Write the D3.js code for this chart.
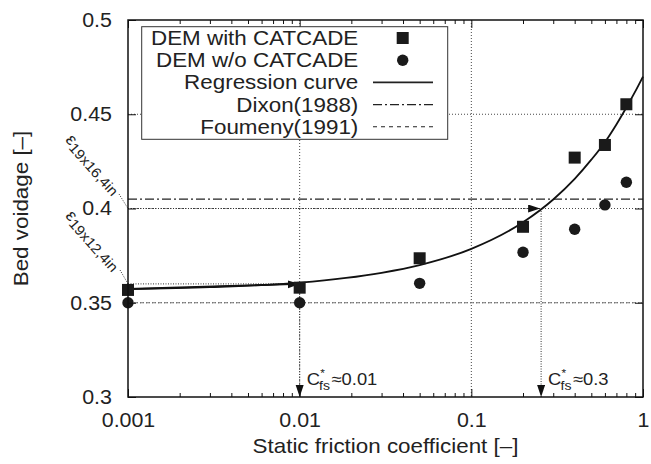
<!DOCTYPE html>
<html><head><meta charset="utf-8">
<script src="https://cdn.jsdelivr.net/npm/d3@7"></script>
<style>body{margin:0;background:#fff}svg{display:block}</style>
</head><body>
<svg id="c" width="651" height="464"></svg>
<script>
// ---- data ----
const xTicksMajor = [0.001, 0.01, 0.1, 1];
const xTickLabels = ["0.001", "0.01", "0.1", "1"];
const yTicks = [0.3, 0.35, 0.4, 0.45, 0.5];
const yTickLabels = ["0.3", "0.35", "0.4", "0.45", "0.5"];
const yGrid = [0.35, 0.4, 0.45];
const xGrid = [0.01, 0.1];
const frictionX = [0.001, 0.01, 0.05, 0.2, 0.4, 0.6, 0.8];
const withCatcade = [0.3568, 0.358, 0.3736, 0.3903, 0.427, 0.4337, 0.4553];
const withoutCatcade = [0.350, 0.350, 0.3603, 0.3768, 0.389, 0.4019, 0.4139];
const regX = [0.001, 0.003, 0.01, 0.03, 0.05, 0.1, 0.2, 0.3, 0.4, 0.5, 0.6, 0.7, 0.8, 0.9, 1.0];
const regY = [0.3573, 0.3583, 0.3607, 0.3659, 0.3700, 0.3786, 0.3927, 0.4048, 0.4157, 0.4259, 0.4352, 0.4446, 0.4536, 0.4620, 0.4700];
const dixon = 0.405;
const foumeny = 0.35;
const eps19x16 = 0.4;
const eps19x12 = 0.36;
const cfsLow = 0.01;
const cfsHigh = 0.255;
const legendLabels = ["DEM with CATCADE", "DEM w/o CATCADE", "Regression curve", "Dixon(1988)", "Foumeny(1991)"];

// ---- layout ----
const L = 128, R = 643, T = 20, B = 397;
const FONT = "'Liberation Sans', Arial, Helvetica, sans-serif";
const svg = d3.select("#c");
const x = d3.scaleLog().domain([0.001, 1]).range([L, R]);
const y = d3.scaleLinear().domain([0.3, 0.5]).range([B, T]);

const defs = svg.append("defs");
defs.append("marker").attr("id", "ah").attr("markerUnits", "userSpaceOnUse")
  .attr("markerWidth", 13).attr("markerHeight", 9).attr("refX", 12).attr("refY", 4)
  .attr("orient", "auto").append("path").attr("d", "M0,0 L12,4 L0,8 Z").attr("fill", "#111");

// grid
const grid = svg.append("g").attr("stroke", "#333").attr("stroke-width", 0.9).attr("stroke-dasharray", "1,2");
grid.selectAll(".gx").data(xGrid).enter().append("line")
  .attr("x1", d => x(d)).attr("x2", d => x(d)).attr("y1", T).attr("y2", B);
grid.selectAll(".gy").data(yGrid).enter().append("line")
  .attr("x1", L).attr("x2", R).attr("y1", d => y(d)).attr("y2", d => y(d));

// reference lines
svg.append("line").attr("x1", L).attr("x2", R).attr("y1", y(foumeny)).attr("y2", y(foumeny))
  .attr("stroke", "#777").attr("stroke-width", 1.2).attr("stroke-dasharray", "3,3");
svg.append("line").attr("x1", L).attr("x2", R).attr("y1", y(dixon)).attr("y2", y(dixon))
  .attr("stroke", "#222").attr("stroke-width", 1.1).attr("stroke-dasharray", "9,3,2,3");

// annotation dotted lines
const dot = svg.append("g").attr("stroke", "#333").attr("stroke-width", 1).attr("stroke-dasharray", "1,1.5").attr("fill", "none");
dot.append("line").attr("x1", L).attr("x2", x(cfsLow)).attr("y1", y(eps19x12)).attr("y2", y(eps19x12));
dot.append("line").attr("x1", x(cfsLow)).attr("x2", x(cfsLow)).attr("y1", y(eps19x12)).attr("y2", B).attr("marker-end", "url(#ah)");
dot.append("line").attr("x1", L).attr("x2", x(cfsHigh) - 1).attr("y1", y(eps19x16)).attr("y2", y(eps19x16)).attr("marker-end", "url(#ah)");
dot.append("line").attr("x1", x(cfsHigh)).attr("x2", x(cfsHigh)).attr("y1", y(eps19x16)).attr("y2", B).attr("marker-end", "url(#ah)");
dot.append("line").attr("x1", 119).attr("y1", 194).attr("x2", L).attr("y2", y(eps19x16));
dot.append("line").attr("x1", 120).attr("y1", 270).attr("x2", L).attr("y2", y(eps19x12));

// regression curve
const line = d3.line().x(d => x(d[0])).y(d => y(d[1])).curve(d3.curveMonotoneX);
svg.append("path").datum(regX.map((v, i) => [v, regY[i]])).attr("d", line)
  .attr("fill", "none").attr("stroke", "#111").attr("stroke-width", 1.8);
// arrow along curve
svg.append("line").attr("x1", x(0.001)).attr("y1", y(regY[0])).attr("x2", x(cfsLow)).attr("y2", y(eps19x12))
  .attr("stroke", "#111").attr("stroke-width", 1.8).attr("marker-end", "url(#ah)");

// points
svg.selectAll(".sq").data(frictionX).enter().append("rect")
  .attr("x", d => x(d) - 6).attr("y", (d, i) => y(withCatcade[i]) - 6)
  .attr("width", 12).attr("height", 12).attr("fill", "#1a1a1a");
svg.selectAll(".ci").data(frictionX).enter().append("circle")
  .attr("cx", d => x(d)).attr("cy", (d, i) => y(withoutCatcade[i])).attr("r", 5.7).attr("fill", "#1a1a1a");

// axes (inward ticks)
function styleAxis(g) { g.select(".domain").remove(); g.selectAll("line").attr("stroke", "#111"); }
const minor = x.ticks().filter(v => !xTicksMajor.some(m => Math.abs(m - v) < 1e-9));
svg.append("g").attr("transform", `translate(0,${B})`)
  .call(d3.axisBottom(x).tickValues(minor).tickSize(-4).tickFormat("")).call(styleAxis);
svg.append("g").attr("transform", `translate(0,${T})`)
  .call(d3.axisTop(x).tickValues(minor).tickSize(-4).tickFormat("")).call(styleAxis);
svg.append("g").attr("transform", `translate(0,${T})`)
  .call(d3.axisTop(x).tickValues(xTicksMajor).tickSize(-8).tickFormat("")).call(styleAxis);
const bx = svg.append("g").attr("transform", `translate(0,${B})`)
  .call(d3.axisBottom(x).tickValues(xTicksMajor).tickSize(-8).tickPadding(15.5).tickFormat((d, i) => xTickLabels[i]))
  .call(styleAxis);
bx.selectAll("text").attr("font-family", FONT).attr("font-size", 20).attr("fill", "#222")
  .attr("transform", "scale(1.07,1)");
const ly = svg.append("g").attr("transform", `translate(${L},0)`)
  .call(d3.axisLeft(y).tickValues(yTicks).tickSize(-8).tickPadding(15).tickFormat((d, i) => yTickLabels[i]))
  .call(styleAxis);
ly.selectAll("text").attr("font-family", FONT).attr("font-size", 20).attr("fill", "#222")
  .attr("transform", "scale(1.07,1)");
svg.append("g").attr("transform", `translate(${R},0)`)
  .call(d3.axisRight(y).tickValues(yTicks).tickSize(-8).tickFormat("")).call(styleAxis);

// legend
const lg = svg.append("g");
lg.append("rect").attr("x", 141.7).attr("y", 26.7).attr("width", 306).attr("height", 112.6)
  .attr("fill", "#fff").attr("stroke", "#333").attr("stroke-width", 1);
legendLabels.forEach((t, i) => {
  const cy = 38 + i * 22.2;
  lg.append("text").attr("transform", `translate(358.3,${cy + 7}) scale(1.12,1)`)
    .attr("text-anchor", "end").attr("font-family", FONT).attr("font-size", 20).attr("fill", "#222").text(t);
  if (i === 0) lg.append("rect").attr("x", 396.7).attr("y", cy - 6).attr("width", 12).attr("height", 12).attr("fill", "#1a1a1a");
  if (i === 1) lg.append("circle").attr("cx", 402.7).attr("cy", cy).attr("r", 5.7).attr("fill", "#1a1a1a");
  if (i >= 2) lg.append("line").attr("x1", 373).attr("x2", 433).attr("y1", cy).attr("y2", cy)
    .attr("stroke", "#222").attr("stroke-width", i === 2 ? 1.8 : 1.1)
    .attr("stroke-dasharray", i === 3 ? "9,3,2,3" : (i === 4 ? "4,4" : null));
});

// frame
svg.append("rect").attr("x", L).attr("y", T).attr("width", R - L).attr("height", B - T)
  .attr("fill", "none").attr("stroke", "#111").attr("stroke-width", 1.5);

// axis titles
svg.append("text").attr("transform", `translate(${(L + R) / 2},453) scale(1.12,1)`)
  .attr("text-anchor", "middle").attr("font-family", FONT).attr("font-size", 20).attr("fill", "#222")
  .text("Static friction coefficient [–]");
svg.append("text").attr("transform", `translate(28,${(T + B) / 2}) rotate(-90) scale(1.12,1)`)
  .attr("text-anchor", "middle").attr("font-family", FONT).attr("font-size", 20).attr("fill", "#222")
  .text("Bed voidage [–]");

// C*fs labels
function cfsLabel(xv, txt) {
  const g = svg.append("g").attr("transform", `translate(${x(xv) + 7},385) scale(1.08,1)`)
    .attr("font-family", FONT).attr("fill", "#222");
  g.append("text").attr("font-size", 17).text("C");
  g.append("text").attr("x", 12.5).attr("y", -8).attr("font-size", 11).text("*");
  g.append("text").attr("x", 11.5).attr("y", 4.5).attr("font-size", 13).text("fs");
  g.append("text").attr("x", 23).attr("font-size", 17).text(txt);
}
cfsLabel(cfsLow, "≈0.01");
cfsLabel(cfsHigh, "≈0.3");

// epsilon labels
function epsLabel(px, py, sub) {
  const t = svg.append("text").attr("transform", `translate(${px},${py}) rotate(48) scale(1.08,1)`)
    .attr("text-anchor", "end").attr("font-family", FONT).attr("fill", "#222");
  t.append("tspan").attr("font-size", 17).text("ε");
  t.append("tspan").attr("font-size", 14).attr("dy", 3).text(sub);
}
epsLabel(114, 195, "19x16,4in");
epsLabel(114, 271, "19x12,4in");
</script>
</body></html>
